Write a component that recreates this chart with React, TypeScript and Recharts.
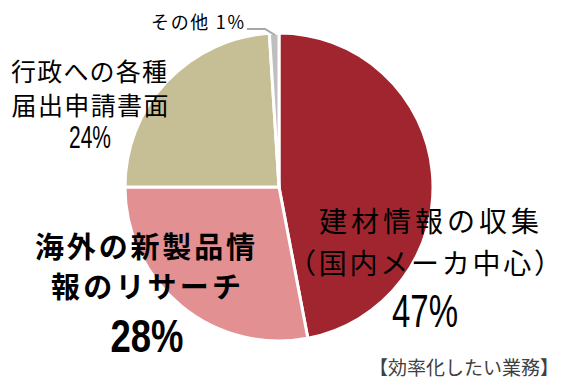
import { PieChart, Pie, Cell } from "recharts";

const categories = ["建材情報の収集（国内メーカ中心）", "海外の新製品情報のリサーチ", "行政への各種届出申請書面", "その他"];
const shares = [47, 28, 24, 1];
const labelLines = [
  ["建材情報の収集", "（国内メーカ中心）"],
  ["海外の新製品情", "報のリサーチ"],
  ["行政への各種", "届出申請書面"],
  ["その他"],
];
const colors = ["#A0252F", "#E29092", "#C6BF96", "#BFBFBF"];
const note = "【効率化したい業務】";

const data = categories.map((name, i) => ({ name, value: shares[i] }));

const JP = "'Noto Sans CJK JP', 'Noto Sans', sans-serif";
const NUM = "'Liberation Sans', Arial, sans-serif";

// label blocks, offsets from pie centre
const renderLabel = (props: any) => {
  const { cx, cy, index } = props;
  const pct = `${shares[index]}%`;
  const lines = labelLines[index];
  if (index === 0) {
    return (
      <g>
        <text x={cx + 150} y={cy + 33} textAnchor="middle" dominantBaseline="central" fontFamily={JP} fontSize={28} textLength={220} lengthAdjust="spacing" fill="#000">{lines[0]}</text>
        <text x={cx + 146} y={cy + 75} textAnchor="middle" dominantBaseline="central" fontFamily={JP} fontSize={28} textLength={274} lengthAdjust="spacing" fill="#000">{lines[1]}</text>
        <text x={cx + 146} y={cy + 124} textAnchor="middle" dominantBaseline="central" fontFamily={NUM} fontSize={46} textLength={66} lengthAdjust="spacingAndGlyphs" fill="#000">{pct}</text>
      </g>
    );
  }
  if (index === 1) {
    return (
      <g>
        <text x={cx - 134} y={cy + 58} textAnchor="middle" dominantBaseline="central" fontFamily={JP} fontWeight="bold" fontSize={29} textLength={220} lengthAdjust="spacing" fill="#000">{lines[0]}</text>
        <text x={cx - 133} y={cy + 98} textAnchor="middle" dominantBaseline="central" fontFamily={JP} fontWeight="bold" fontSize={29} textLength={190} lengthAdjust="spacing" fill="#000">{lines[1]}</text>
        <text x={cx - 132} y={cy + 148} textAnchor="middle" dominantBaseline="central" fontFamily={NUM} fontWeight="bold" fontSize={47} textLength={73} lengthAdjust="spacingAndGlyphs" fill="#000">{pct}</text>
      </g>
    );
  }
  if (index === 2) {
    return (
      <g>
        <text x={cx - 190} y={cy - 117} textAnchor="middle" dominantBaseline="central" fontFamily={JP} fontSize={25} textLength={156} lengthAdjust="spacing" fill="#000">{lines[0]}</text>
        <text x={cx - 189} y={cy - 83} textAnchor="middle" dominantBaseline="central" fontFamily={JP} fontSize={25} textLength={157} lengthAdjust="spacing" fill="#000">{lines[1]}</text>
        <text x={cx - 189} y={cy - 50} textAnchor="middle" dominantBaseline="central" fontFamily={NUM} fontSize={31} textLength={42} lengthAdjust="spacingAndGlyphs" fill="#000">{pct}</text>
      </g>
    );
  }
  return (
    <g>
      <polyline points={`${cx - 32},${cy - 158} ${cx - 14},${cy - 158} ${cx - 4},${cy - 152}`} fill="none" stroke="#A6A6A6" strokeWidth={2} />
      <text x={cx - 128} y={cy - 166} textAnchor="start" dominantBaseline="central" fontFamily={JP} fontSize={18} textLength={93} lengthAdjust="spacing" fill="#000">{`${lines[0]} ${pct}`}</text>
    </g>
  );
};

export default function App() {
  return (
    <div style={{ position: "absolute", left: 0, top: 0, width: 563, height: 384, background: "#fff" }}>
      <PieChart width={563} height={384} margin={{ top: 0, right: 0, bottom: 0, left: 0 }}>
        <Pie
          data={data}
          dataKey="value"
          nameKey="name"
          cx={279}
          cy={187}
          outerRadius={154}
          startAngle={90}
          endAngle={-270}
          stroke="#fff"
          strokeWidth={3}
          label={renderLabel}
          labelLine={false}
          isAnimationActive={false}
        >
          {data.map((d, i) => (
            <Cell key={d.name} fill={colors[i]} />
          ))}
        </Pie>
      </PieChart>
      <div
        style={{
          position: "absolute",
          left: 369,
          top: 355,
          fontFamily: JP,
          fontSize: 19,
          lineHeight: "24px",
          color: "#404040",
          whiteSpace: "nowrap",
        }}
      >
        {note}
      </div>
    </div>
  );
}
